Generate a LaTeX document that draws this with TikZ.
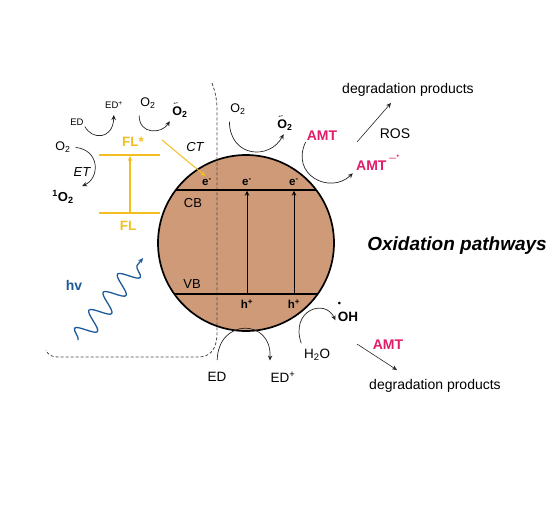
\documentclass[tikz,border=0pt]{standalone}
\usepackage{fontspec}
\setmainfont{Liberation Sans}
\usepackage{xcolor}
\usepackage{tikz}
\usetikzlibrary{arrows.meta,decorations.pathmorphing}

\definecolor{oxide}{RGB}{206,154,120}
\definecolor{flgold}{RGB}{243,190,32}
\definecolor{amtpink}{RGB}{225,28,106}
\definecolor{hvblue}{RGB}{29,90,154}
\definecolor{dashgray}{RGB}{75,75,75}

\newcommand{\fs}[1]{\fontsize{#1}{#1}\selectfont}
\newcommand{\supox}{\textbf{\makebox[0pt][l]{\smash{\raisebox{0.8em}{\hspace{0.1em}\fs{7}-\kern0.2pt·}}}O\textsubscript{2}}}
\newcommand{\ohrad}{\makebox[0pt][l]{\smash{\raisebox{1.12em}{\fs{9}•}}}OH}
\newcommand{\amtrad}{AMT\smash{\raisebox{0.7em}{\fs{7}\kern2.5pt—\kern0.6pt\raisebox{0.2em}{•}}}}

\begin{document}
\begin{tikzpicture}[x=1pt,y=-1pt,>={Stealth[length=5pt,width=4.5pt]},
  lbl/.style={inner sep=1pt,font=\fs{12.5}},
  smlbl/.style={inner sep=1pt,font=\fs{9.5}},
  bglbl/.style={inner sep=1pt,font=\fs{14}},
  btlbl/.style={inner sep=1pt,font=\fs{13.5}},
  chg/.style={inner sep=1pt,font=\bfseries\fs{11.5}},
  amt/.style={inner sep=1pt,font=\bfseries\fs{14},text=amtpink},
  fllbl/.style={inner sep=1pt,font=\bfseries\fs{13.5},text=flgold},
  band/.style={line width=1.6pt},
  flband/.style={flgold,line width=2.2pt},
  turn/.style={->,line width=0.7pt,black!85},
  plain/.style={->,line width=0.6pt,black!85}]
  \useasboundingbox (0,0) rectangle (556,525);

  \node[circle,draw,line width=1.7pt,fill=oxide,minimum size=176pt,inner sep=0pt] (np) at (246,243) {};

  \draw[dashgray,line width=0.8pt,dash pattern=on 3pt off 2pt] (212,83) .. controls (215,92) and (217,98) .. (217,110) -- (217,332) .. controls (217,350) and (210,357) .. (198,357) -- (58,357) .. controls (52,357) and (48,355) .. (46,350);

  \coordinate (cbW) at (176,190);
  \coordinate (cbE) at (316,190);
  \coordinate (vbW) at (174,294);
  \coordinate (vbE) at (318,294);
  \draw[band] (cbW) -- (cbE);
  \draw[band] (vbW) -- (vbE);

  \coordinate (vb1) at (247,294);
  \coordinate (cb1) at (247,190);
  \coordinate (vb2) at (294,294);
  \coordinate (cb2) at (294,190);
  \draw[->,line width=0.9pt,shorten >=0.7pt] (vb1) -- (cb1);
  \draw[->,line width=0.9pt,shorten >=0.7pt] (vb2) -- (cb2);

  \node[chg] (e0) at (207,182) {e\textsuperscript{-}};
  \node[chg] (e1) at (247,182) {e\textsuperscript{-}};
  \node[chg] (e2) at (294,182) {e\textsuperscript{-}};
  \node[chg] (h1) at (247,304) {h\textsuperscript{+}};
  \node[chg] (h2) at (294,304) {h\textsuperscript{+}};
  \node[lbl,font=\fs{13}] (cbLbl) at (193,203) {CB};
  \node[lbl,font=\fs{13}] (vbLbl) at (192,284) {VB};

  \coordinate (flsW) at (99,155);
  \coordinate (flsE) at (160,155);
  \coordinate (flgW) at (99,213);
  \coordinate (flgE) at (160,213);
  \draw[flband] (flsW) -- (flsE);
  \draw[flband] (flgW) -- (flgE);
  \coordinate (flUp) at (130,212);
  \coordinate (flTop) at (130,155);
  \draw[flgold,->,line width=1.2pt,shorten >=1pt] (flUp) -- (flTop);
  \node[fllbl] (flS) at (133,142) {FL*};
  \node[fllbl] (flG) at (128,226) {FL};

  \coordinate (ctS) at (162,140);
  \draw[flgold,->,line width=1pt,shorten >=2pt] (ctS) -- (e0.north);
  \node[lbl,font=\itshape\fs{13}] (ctL) at (195,147) {CT};

  \node[smlbl] (edA) at (77,122) {ED};
  \node[smlbl] (edpA) at (114,105) {ED\textsuperscript{+}};
  \node[lbl] (o2A) at (148,103) {O\textsubscript{2}};
  \node[lbl] (soA) at (180,112) {\supox};
  \node[lbl] (o2L) at (63,147) {O\textsubscript{2}};
  \node[lbl,font=\itshape\fs{13}] (etL) at (82,172) {ET};
  \node[lbl,font=\bfseries\fs{13}] (sgO) at (63,197) {\textsuperscript{1}O\textsubscript{2}};

  \draw[turn,shorten >=5pt] (edA.south east) .. controls (92,140) and (113,140) .. (edpA.south);
  \draw[turn,shorten <=6pt,shorten >=3pt] (o2A.south west) .. controls (139,135) and (162,134) .. (soA.south west);
  \draw[turn,shorten <=4pt,shorten >=8pt] (o2L.east) .. controls (100,150) and (100,178) .. (sgO.north east);

  \node[lbl] (o2B) at (238,109) {O\textsubscript{2}};
  \node[lbl] (soB) at (285,125) {\supox};
  \node[amt] (amtA) at (322,136) {AMT};
  \node[amt,anchor=base west] (amtR) at (355,170) {\amtrad};
  \node[bglbl] (dpT) at (408,90) {degradation products};
  \node[bglbl] (rosL) at (395,134) {ROS};

  \draw[turn,shorten <=6pt,shorten >=3pt] (o2B.south west) .. controls (230,158) and (270,160) .. (soB.south);
  \draw[turn,shorten >=3pt] (amtA.south west) .. controls (290,175) and (330,195) .. (amtR.south west);
  \coordinate (rosA) at (357,142);
  \coordinate (rosB) at (391,103);
  \draw[plain] (rosA) -- (rosB);

  \node[btlbl] (edB) at (217,377) {ED};
  \node[btlbl] (edpB) at (283,377) {ED\textsuperscript{+}};
  \node[btlbl] (h2o) at (317,355) {H\textsubscript{2}O};
  \node[btlbl,font=\bfseries\fs{13.5}] (ohR) at (348,317) {\ohrad};
  \node[amt] (amtB) at (388,345) {AMT};
  \node[bglbl] (dpB) at (435,386) {degradation products};

  \draw[turn,shorten <=11pt,shorten >=10pt] (edB.north) .. controls (218,318) and (272,318) .. (edpB.north west);
  \draw[turn,shorten <=5pt,shorten >=3pt] (h2o.north west) .. controls (290,310) and (325,298) .. (ohR.south west);
  \coordinate (amtC) at (357,344);
  \coordinate (amtD) at (397,370);
  \draw[plain] (amtC) -- (amtD);

  \coordinate (hvS) at (78,340);
  \coordinate (hvE) at (143,258);
  \draw[hvblue,line width=1.3pt,->,decorate,decoration={snake,amplitude=10pt,segment length=23pt,post length=5pt}] (hvS) -- (hvE);
  \node[font=\bfseries\fs{14},text=hvblue] (hvL) at (74,285) {hv};

  \node[font=\bfseries\itshape\fs{19}] (oxP) at (457,246) {Oxidation pathways};
\end{tikzpicture}
\end{document}
